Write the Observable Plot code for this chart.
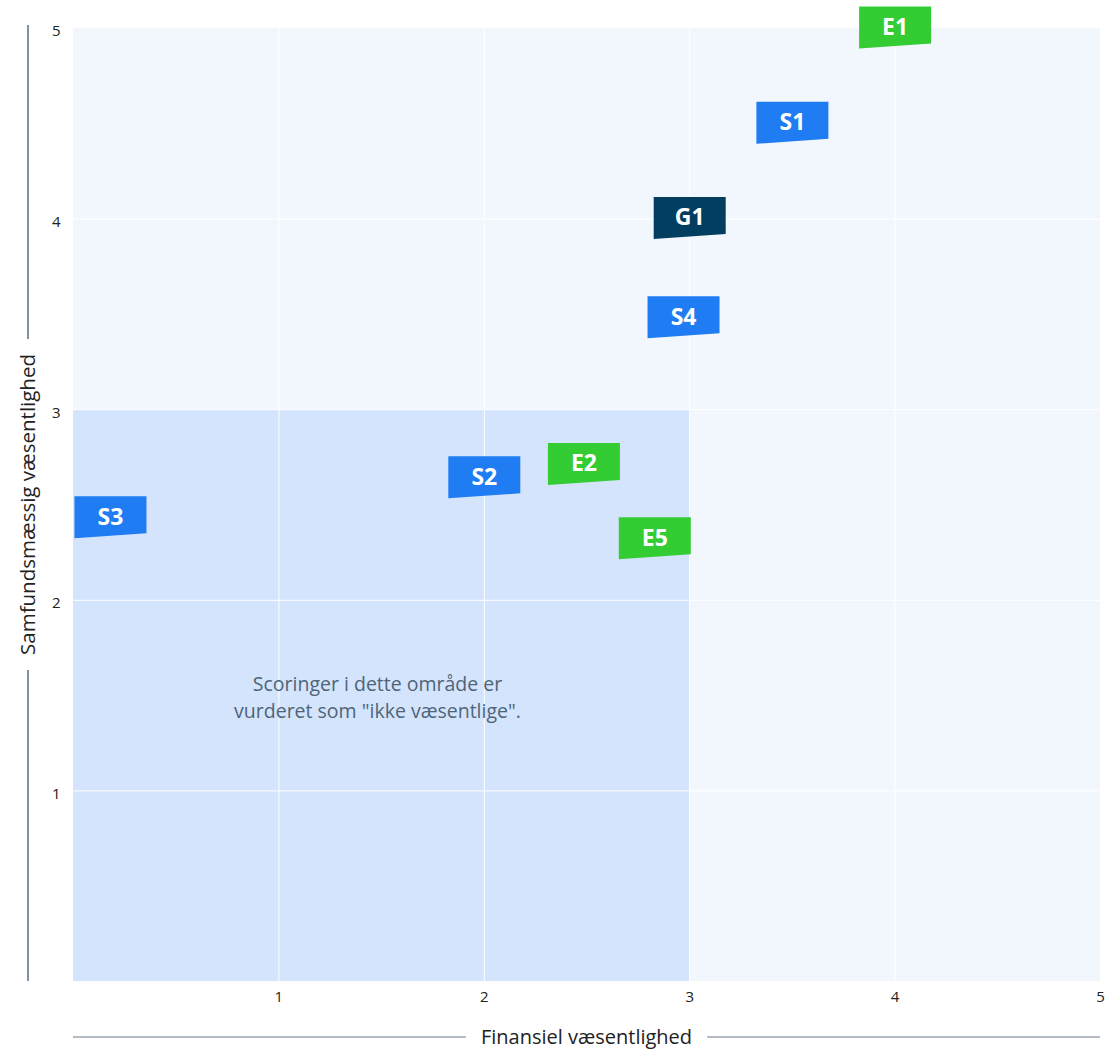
<!DOCTYPE html>
<html>
<head>
<meta charset="utf-8">
<script src="https://cdn.jsdelivr.net/npm/d3@7"></script>
<script src="https://cdn.jsdelivr.net/npm/@observablehq/plot@0.6"></script>
<style>
  html, body { margin: 0; padding: 0; background: #fff; }
  svg { overflow: visible; font-family: "Open Sans", sans-serif; }
</style>
</head>
<body>
<div id="chart"></div>
<script>
// Data
const labels = ["E1", "S1", "G1", "S4", "E2", "S2", "E5", "S3"];
const financial = [4.0, 3.5, 3.0, 2.97, 2.485, 2.0, 2.83, 0.18];
const societal = [5.0, 4.5, 4.0, 3.48, 2.71, 2.64, 2.32, 2.43];
const groups = ["E", "S", "G", "S", "E", "S", "E", "S"];
const groupColors = {E: "#33cc33", S: "#1f7cf2", G: "#023e5f"};
const tickValues = [1, 2, 3, 4, 5];
const xTitle = "Finansiel væsentlighed";
const yTitle = "Samfundsmæssig væsentlighed";
const noteText = "Scoringer i dette område er\nvurderet som \"ikke væsentlige\".";
const notePos = {x: 1.48, y: 1.5};
const threshold = 3;
const domainMax = 5;

const points = labels.map((l, i) => ({label: l, x: financial[i], y: societal[i], group: groups[i]}));

// custom flag-shaped symbol (flat top, slanted bottom)
const flag = {
  draw(ctx) {
    ctx.moveTo(-36, -22);
    ctx.lineTo(36, -22);
    ctx.lineTo(36, 15);
    ctx.lineTo(-36, 20);
    ctx.closePath();
  }
};

const W = 1120, H = 1049;
const plot = Plot.plot({
  width: W,
  height: H,
  marginLeft: 73,
  marginRight: 20,
  marginTop: 28,
  marginBottom: 68,
  style: {fontFamily: "Open Sans, sans-serif", background: "#fff", overflow: "visible"},
  x: {domain: [0, domainMax]},
  y: {domain: [0, domainMax]},
  marks: [
    Plot.rect([{x1: 0, x2: domainMax, y1: 0, y2: domainMax}], {x1: "x1", x2: "x2", y1: "y1", y2: "y2", fill: "#f2f7fe"}),
    Plot.rect([{x1: 0, x2: threshold, y1: 0, y2: threshold}], {x1: "x1", x2: "x2", y1: "y1", y2: "y2", fill: "#d3e4fc"}),
    Plot.ruleX(tickValues.slice(0, -1), {stroke: "#fff", strokeWidth: 1}),
    Plot.ruleY(tickValues.slice(0, -1), {stroke: "#fff", strokeWidth: 1}),
    Plot.axisX(tickValues, {tickSize: 0, tickPadding: 10, fontSize: 15, fill: "#222", label: null, tickFormat: "d"}),
    Plot.axisY(tickValues, {tickSize: 0, tickPadding: 13, fontSize: 15, fill: "#222", dy: 3, label: null, tickFormat: "d"}),
    Plot.text([notePos], {x: "x", y: "y", text: () => noteText, fontSize: 19.5, fill: "#4f6478", lineHeight: 1.4, textAnchor: "middle"}),
    Plot.dot(points, {x: "x", y: "y", symbol: () => flag, r: 10, fill: d => groupColors[d.group], stroke: "none"}),
    Plot.text(points, {x: "x", y: "y", text: "label", fill: "#fff", fontSize: 23, fontWeight: "bold", dy: -1, letterSpacing: 1})
  ]
});
document.getElementById("chart").appendChild(plot);

// axis titles with side lines
const sx = plot.scale("x"), sy = plot.scale("y");
const svg = d3.select(plot);
const x0 = sx.apply(0), x1 = sx.apply(domainMax);
const y0 = sy.apply(0), y1 = sy.apply(domainMax);

// x title
const xtY = 1037;
const xt = svg.append("text").attr("x", (x0 + x1) / 2).attr("y", xtY).attr("dy", "0.35em")
  .attr("text-anchor", "middle").attr("font-size", 20).attr("fill", "#222").text(xTitle);
const xb = xt.node().getBBox();
svg.append("line").attr("x1", x0).attr("x2", xb.x - 15).attr("y1", xtY).attr("y2", xtY).attr("stroke", "#9aa5b1").attr("stroke-width", 1.5);
svg.append("line").attr("x1", xb.x + xb.width + 15).attr("x2", x1).attr("y1", xtY).attr("y2", xtY).attr("stroke", "#9aa5b1").attr("stroke-width", 1.5);

// y title
const ytX = 28;
const ymid = (y0 + y1) / 2;
const yt = svg.append("text").attr("transform", `translate(${ytX},${ymid}) rotate(-90)`).attr("dy", "0.35em")
  .attr("text-anchor", "middle").attr("font-size", 20.5).attr("fill", "#222").text(yTitle);
const yb = yt.node().getBBox();
const half = yb.width / 2;
svg.append("line").attr("x1", ytX).attr("x2", ytX).attr("y1", y1 - 3).attr("y2", ymid - half - 15).attr("stroke", "#5a6e7e").attr("stroke-width", 1.5);
svg.append("line").attr("x1", ytX).attr("x2", ytX).attr("y1", ymid + half + 15).attr("y2", y0).attr("stroke", "#5a6e7e").attr("stroke-width", 1.5);
</script>
</body>
</html>
